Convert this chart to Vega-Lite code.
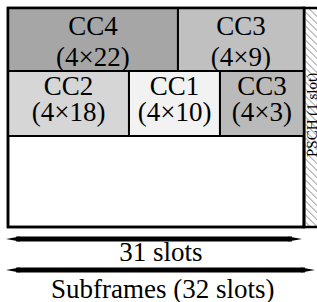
{
  "$schema": "https://vega.github.io/schema/vega-lite/v6.json",
  "width": 317,
  "height": 302,
  "autosize": "none",
  "padding": 0,
  "background": "white",
  "config": {"view": {"stroke": null}},
  "datasets": {
    "cells": [
      {"id": "CC4", "x": 0, "x2": 17.8, "y": 0, "y2": 6.6},
      {"id": "CC3a", "x": 17.8, "x2": 31, "y": 0, "y2": 6.6},
      {"id": "CC2", "x": 0, "x2": 12.67, "y": 6.6, "y2": 13.4},
      {"id": "CC1", "x": 12.67, "x2": 22.2, "y": 6.6, "y2": 13.4},
      {"id": "CC3b", "x": 22.2, "x2": 31, "y": 6.6, "y2": 13.4}
    ],
    "labels": [
      {"x": 8.9, "y": 2.83, "text": "CC4"},
      {"x": 8.9, "y": 6.07, "text": "(4×22)"},
      {"x": 24.4, "y": 2.83, "text": "CC3"},
      {"x": 24.4, "y": 6.07, "text": "(4×9)"},
      {"x": 6.34, "y": 9.11, "text": "CC2"},
      {"x": 6.34, "y": 11.83, "text": "(4×18)"},
      {"x": 17.44, "y": 9.11, "text": "CC1"},
      {"x": 17.44, "y": 11.83, "text": "(4×10)"},
      {"x": 26.6, "y": 9.11, "text": "CC3"},
      {"x": 26.6, "y": 11.83, "text": "(4×3)"},
      {"x": 16.0, "y": 26.5, "text": "31 slots"},
      {"x": 16.2, "y": 30.37, "text": "Subframes (32 slots)"}
    ],
    "hatch": [
      {"x": 32.2, "y": 0, "x2": 32.4, "y2": 0.2},
      {"x": 31.47, "y": 0, "x2": 32.4, "y2": 0.93},
      {"x": 31, "y": 0.27, "x2": 32.4, "y2": 1.67},
      {"x": 31, "y": 1.0, "x2": 32.4, "y2": 2.4},
      {"x": 31, "y": 1.73, "x2": 32.4, "y2": 3.13},
      {"x": 31, "y": 2.47, "x2": 32.4, "y2": 3.87},
      {"x": 31, "y": 3.2, "x2": 32.4, "y2": 4.6},
      {"x": 31, "y": 3.93, "x2": 32.4, "y2": 5.33},
      {"x": 31, "y": 4.66, "x2": 32.4, "y2": 6.06},
      {"x": 31, "y": 5.4, "x2": 32.4, "y2": 6.8},
      {"x": 31, "y": 6.13, "x2": 32.4, "y2": 7.53},
      {"x": 31, "y": 6.86, "x2": 32.4, "y2": 8.26},
      {"x": 31, "y": 7.6, "x2": 32.4, "y2": 9.0},
      {"x": 31, "y": 8.33, "x2": 32.4, "y2": 9.73},
      {"x": 31, "y": 9.06, "x2": 32.4, "y2": 10.46},
      {"x": 31, "y": 9.8, "x2": 32.4, "y2": 11.2},
      {"x": 31, "y": 10.53, "x2": 32.4, "y2": 11.93},
      {"x": 31, "y": 11.26, "x2": 32.4, "y2": 12.66},
      {"x": 31, "y": 12.0, "x2": 32.4, "y2": 13.4},
      {"x": 31, "y": 12.73, "x2": 32.4, "y2": 14.13},
      {"x": 31, "y": 13.46, "x2": 32.4, "y2": 14.86},
      {"x": 31, "y": 14.2, "x2": 32.4, "y2": 15.6},
      {"x": 31, "y": 14.93, "x2": 32.4, "y2": 16.33},
      {"x": 31, "y": 15.66, "x2": 32.4, "y2": 17.06},
      {"x": 31, "y": 16.4, "x2": 32.4, "y2": 17.8},
      {"x": 31, "y": 17.13, "x2": 32.4, "y2": 18.53},
      {"x": 31, "y": 17.86, "x2": 32.4, "y2": 19.26},
      {"x": 31, "y": 18.6, "x2": 32.4, "y2": 20.0},
      {"x": 31, "y": 19.33, "x2": 32.4, "y2": 20.73},
      {"x": 31, "y": 20.06, "x2": 32.4, "y2": 21.46},
      {"x": 31, "y": 20.8, "x2": 32.4, "y2": 22.2},
      {"x": 31, "y": 21.53, "x2": 32.4, "y2": 22.93},
      {"x": 31, "y": 22.26, "x2": 31.68, "y2": 22.94}
    ],
    "arrows": [
      {"x1": -0.21, "x2": 30.79, "y": 24.2},
      {"x1": -0.21, "x2": 32.15, "y": 27.44}
    ]
  },
  "layer": [
    {
      "data": {"values": [{"x": 0, "x2": 31, "y": 0, "y2": 22.94}]},
      "mark": {"type": "rect", "fill": "white", "stroke": "black", "strokeWidth": 2.5},
      "encoding": {
        "x": {"field": "x", "type": "quantitative", "scale": {"domain": [-0.838, 32.362], "nice": false, "zero": false}, "axis": null},
        "x2": {"field": "x2"},
        "y": {"field": "y", "type": "quantitative", "scale": {"domain": [-0.838, 30.79], "nice": false, "zero": false, "reverse": true}, "axis": null},
        "y2": {"field": "y2"}
      }
    },
    {
      "data": {"name": "hatch"},
      "mark": {"type": "rule", "color": "#888888", "strokeWidth": 1},
      "encoding": {
        "x": {"field": "x", "type": "quantitative"},
        "x2": {"field": "x2"},
        "y": {"field": "y", "type": "quantitative"},
        "y2": {"field": "y2"}
      }
    },
    {
      "data": {"values": [{"x": 31, "x2": 32.6, "y": 0, "y2": 22.94}]},
      "mark": {"type": "rect", "fill": null, "fillOpacity": 0, "stroke": "black", "strokeWidth": 2.5},
      "encoding": {
        "x": {"field": "x", "type": "quantitative"},
        "x2": {"field": "x2"},
        "y": {"field": "y", "type": "quantitative"},
        "y2": {"field": "y2"}
      }
    },
    {
      "data": {"name": "cells"},
      "mark": {"type": "rect", "stroke": "black", "strokeWidth": 2},
      "encoding": {
        "x": {"field": "x", "type": "quantitative"},
        "x2": {"field": "x2"},
        "y": {"field": "y", "type": "quantitative"},
        "y2": {"field": "y2"},
        "fill": {"field": "id", "type": "nominal", "legend": null,
          "scale": {"domain": ["CC4", "CC3a", "CC2", "CC1", "CC3b"], "range": ["#a6a6a6", "#c0c0c0", "#d6d6d6", "#f2f2f2", "#bababa"]}}
      }
    },
    {
      "data": {"values": [{"x": 0, "x2": 31, "y": 0, "y2": 22.94}]},
      "mark": {"type": "rect", "fill": null, "fillOpacity": 0, "stroke": "black", "strokeWidth": 2.5},
      "encoding": {
        "x": {"field": "x", "type": "quantitative"},
        "x2": {"field": "x2"},
        "y": {"field": "y", "type": "quantitative"},
        "y2": {"field": "y2"}
      }
    },
    {
      "data": {"name": "labels"},
      "mark": {"type": "text", "font": "Liberation Serif, Times New Roman, DejaVu Serif, serif", "fontSize": 27, "align": "center", "baseline": "alphabetic", "color": "black"},
      "encoding": {
        "x": {"field": "x", "type": "quantitative"},
        "y": {"field": "y", "type": "quantitative"},
        "text": {"field": "text"}
      }
    },
    {
      "data": {"values": [{"x": 31.84, "y": 11.2, "text": "PSCH (1 slot)"}]},
      "mark": {"type": "text", "font": "Liberation Serif, Times New Roman, DejaVu Serif, serif", "fontSize": 15, "align": "center", "baseline": "middle", "angle": 270, "color": "black"},
      "encoding": {
        "x": {"field": "x", "type": "quantitative"},
        "y": {"field": "y", "type": "quantitative"},
        "text": {"field": "text"}
      }
    },
    {
      "data": {"name": "arrows"},
      "mark": {"type": "rule", "color": "black", "strokeWidth": 5, "xOffset": 10, "x2Offset": -10},
      "encoding": {
        "x": {"field": "x1", "type": "quantitative"},
        "x2": {"field": "x2"},
        "y": {"field": "y", "type": "quantitative"}
      }
    },
    {
      "data": {"name": "arrows"},
      "mark": {"type": "point", "filled": true, "color": "black", "opacity": 1, "size": 196, "shape": "M0,0L2,-0.36L2,0.36Z"},
      "encoding": {
        "x": {"field": "x1", "type": "quantitative"},
        "y": {"field": "y", "type": "quantitative"}
      }
    },
    {
      "data": {"name": "arrows"},
      "mark": {"type": "point", "filled": true, "color": "black", "opacity": 1, "size": 196, "shape": "M0,0L-2,-0.36L-2,0.36Z"},
      "encoding": {
        "x": {"field": "x2", "type": "quantitative"},
        "y": {"field": "y", "type": "quantitative"}
      }
    }
  ]
}
